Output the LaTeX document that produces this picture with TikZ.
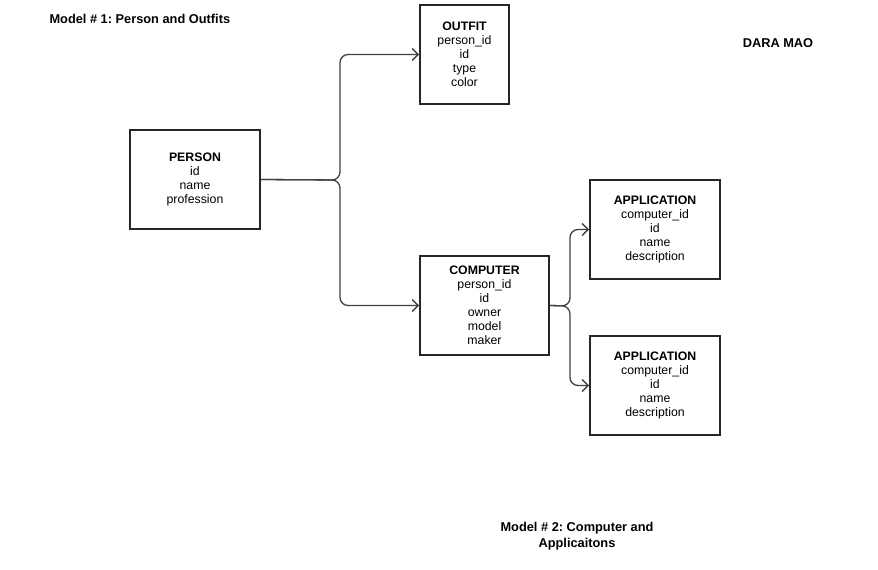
\documentclass[tikz,border=0pt]{standalone}
\usepackage{fontspec}
\setmainfont{Liberation Sans}
\usetikzlibrary{arrows.meta}
\begin{document}
\frenchspacing
\begin{tikzpicture}[x=1pt,y=-1pt,
  entity/.style={draw=black!85,line width=1.8pt,minimum width=#1,minimum height=99pt,inner sep=0pt,align=center,font=\fontsize{12.3}{14}\selectfont},
  entity/.default=130pt,
  link/.style={draw=black!75,line width=1.3pt,rounded corners=8pt,-{Straight Barb[length=6pt,width=12pt,line width=1.4pt]}},
  title/.style={font=\fontsize{12.8}{16}\selectfont\bfseries,align=center}]
\useasboundingbox (0,0) rectangle (878,570);
\node[entity=89pt] (outfit) at (464.5,54.5) {\textbf{OUTFIT}\\person\_id\\id\\type\\color};
\node[entity] (person) at (195,179.5) {\textbf{PERSON}\\id\\name\\profession};
\node[entity=129pt] (computer) at (484.5,305.5) {\textbf{COMPUTER}\\person\_id\\id\\owner\\model\\maker};
\node[entity] (app1) at (655,229.5) {\textbf{APPLICATION}\\computer\_id\\id\\name\\description};
\node[entity] (app2) at (655,385.5) {\textbf{APPLICATION}\\computer\_id\\id\\name\\description};
\coordinate (j1) at (340,180);
\coordinate (j2) at (570,306);
\draw[link] (person.east) -- (j1) |- (outfit.west);
\draw[link] (person.east) -- (j1) |- (computer.west);
\draw[link] (computer.east) -- (j2) |- (app1.west);
\draw[link] (computer.east) -- (j2) |- (app2.west);
\node[title,anchor=west] (t1) at (46,19) {Model \# 1: Person and Outfits};
\node[title] (t2) at (778,43) {DARA MAO};
\node[title] (t3) at (577,536) {Model \# 2: Computer and\\Applicaitons};
\end{tikzpicture}
\end{document}
